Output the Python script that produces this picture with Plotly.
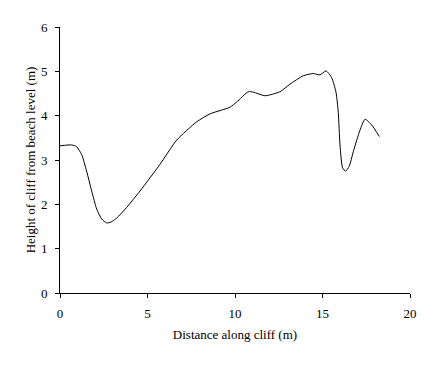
import plotly.graph_objects as go

distance = [0.0, 0.67, 0.95, 1.24, 1.52, 1.81, 2.10, 2.38, 2.67, 2.91, 3.24, 3.81, 4.57,
            5.71, 6.67, 7.81, 8.57, 9.71, 10.1, 10.76, 11.05, 11.71, 12.57, 13.14, 13.9,
            14.47, 14.86, 15.2, 15.52, 15.77, 15.9, 16.0, 16.15, 16.32, 16.53, 16.76,
            17.14, 17.43, 17.81, 18.25]
height = [3.32, 3.34, 3.30, 3.12, 2.75, 2.30, 1.89, 1.67, 1.58, 1.60, 1.69, 1.93, 2.30,
          2.90, 3.45, 3.86, 4.04, 4.19, 4.31, 4.54, 4.53, 4.45, 4.54, 4.71, 4.90,
          4.95, 4.92, 5.01, 4.86, 4.53, 4.08, 3.34, 2.82, 2.75, 2.86, 3.19,
          3.67, 3.92, 3.79, 3.53]

x_ticks = [0, 5, 10, 15, 20]
y_ticks = [0, 1, 2, 3, 4, 5, 6]

font = "Liberation Serif, Times New Roman, serif"

fig = go.Figure(go.Scatter(
    x=distance, y=height, mode="lines",
    line=dict(color="black", width=1, shape="spline", smoothing=0.6),
    hoverinfo="skip", showlegend=False))

axis_common = dict(showgrid=False, zeroline=False, showline=True, linecolor="black",
                   linewidth=1, ticks="outside", ticklen=4, tickcolor="black",
                   tickfont=dict(family=font, size=13, color="black"))

fig.update_xaxes(range=[0, 20], tickvals=x_ticks, ticklabelstandoff=4,
                 title=dict(text="Distance along cliff (m)", font=dict(family=font, size=13, color="black"), standoff=10),
                 **axis_common)
fig.update_yaxes(range=[0, 6], tickvals=y_ticks, ticklabelstandoff=5,
                 title=dict(text="Height of cliff from beach level (m)", font=dict(family=font, size=13, color="black"), standoff=2),
                 **axis_common)

fig.update_layout(width=434, height=368, plot_bgcolor="white", paper_bgcolor="white",
                  margin=dict(l=52, r=32, t=16, b=83), font=dict(family=font))

fig.write_html("out.html")
